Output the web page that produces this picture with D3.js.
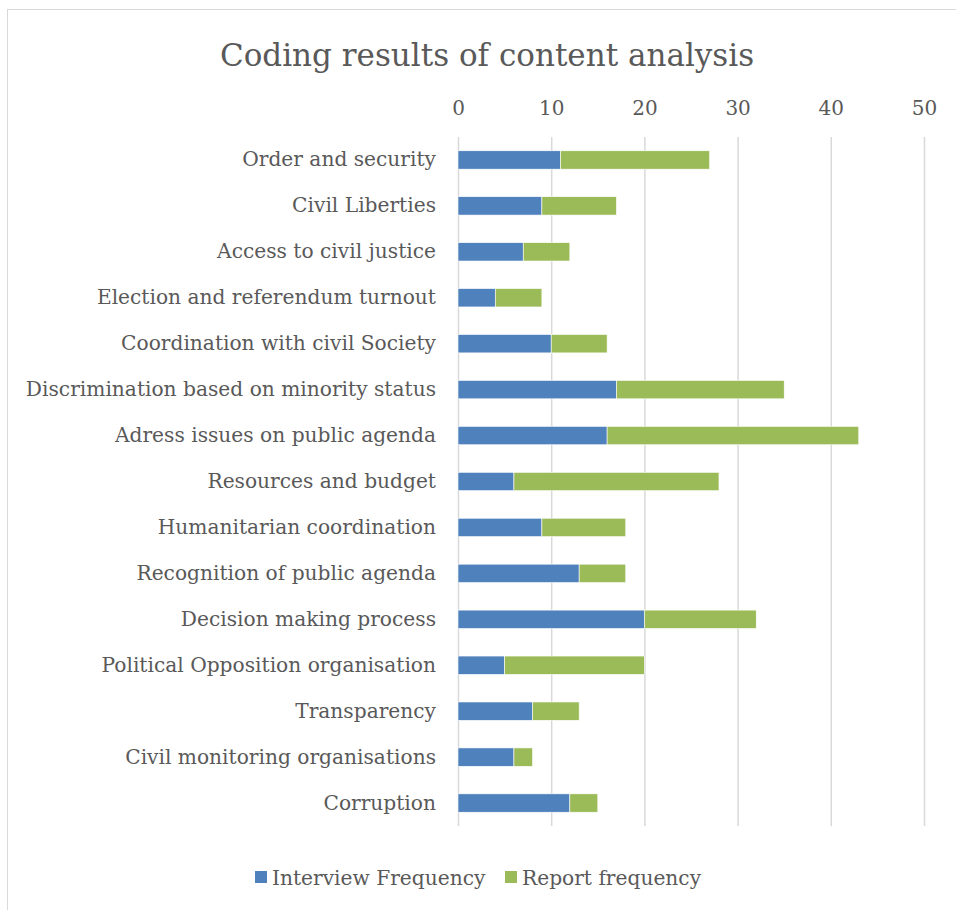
<html lang="en">
  <head>
    <meta charset="utf-8" />
    <title>Coding results of content analysis</title>
    <style>
     body {
       margin: 0;
       background: white;
       font-family: "DejaVu Serif", serif;
     }
    </style>
  </head>
  <body>
    <div id="chart"></div>

    <script src="https://d3js.org/d3.v7.min.js"></script>
    <script>

     var categories = [
       "Order and security",
       "Civil Liberties",
       "Access to civil justice",
       "Election and referendum turnout",
       "Coordination with civil Society",
       "Discrimination based on minority status",
       "Adress issues on public agenda",
       "Resources and budget",
       "Humanitarian coordination",
       "Recognition of public agenda",
       "Decision making process",
       "Political Opposition organisation",
       "Transparency",
       "Civil monitoring organisations",
       "Corruption"
     ];
     var interview = [11, 9, 7, 4, 10, 17, 16, 6, 9, 13, 20, 5, 8, 6, 12];
     var report    = [16, 8, 5, 5, 6, 18, 27, 22, 9, 5, 12, 15, 5, 2, 3];
     var seriesNames = ["Interview Frequency", "Report frequency"];
     var colors = ["#4F81BD", "#9BBB59"];
     var ticks = [0, 10, 20, 30, 40, 50];

     var width = 956, height = 910;
     var textColor = "#595959";

     var svg = d3.select("#chart")
                 .append("svg")
                 .attr("width", width)
                 .attr("height", height);

     // chart border
     svg.append("rect")
        .attr("x", 7.5)
        .attr("y", 9.5)
        .attr("width", width)
        .attr("height", height)
        .attr("fill", "white")
        .attr("stroke", "#D9D9D9");

     svg.append("text")
        .attr("x", 487)
        .attr("y", 66)
        .attr("text-anchor", "middle")
        .attr("fill", textColor)
        .attr("font-size", 31)
        .text("Coding results of content analysis");

     var x = d3.scaleLinear().domain([0, 50]).range([458, 924]);
     var y = d3.scaleBand().domain(categories).range([137, 826]).paddingInner(0.6).paddingOuter(0.3);

     // gridlines
     svg.append("g")
        .selectAll("line")
        .data(ticks)
        .join("line")
        .attr("x1", d => x(d) + 0.5)
        .attr("x2", d => x(d) + 0.5)
        .attr("y1", 137)
        .attr("y2", 826)
        .attr("stroke", "#D9D9D9")
        .attr("stroke-width", 1.5);

     // top axis labels
     var xAxis = svg.append("g")
        .attr("transform", "translate(0,115)")
        .call(d3.axisTop(x).tickValues(ticks).tickSize(0).tickPadding(0));
     xAxis.select(".domain").remove();
     xAxis.selectAll("text")
        .attr("fill", textColor)
        .attr("font-size", 20)
        .attr("font-family", "DejaVu Serif, serif");

     // category labels
     var yAxis = svg.append("g")
        .attr("transform", "translate(436,0)")
        .call(d3.axisLeft(y).tickSize(0).tickPadding(0));
     yAxis.select(".domain").remove();
     yAxis.selectAll("text")
        .attr("fill", textColor)
        .attr("font-size", 20.2)
        .attr("font-family", "DejaVu Serif, serif");

     // stacked bars
     var rows = categories.map((c, i) => ({cat: c, interview: interview[i], report: report[i]}));
     var stack = d3.stack().keys(["interview", "report"])(rows);

     svg.append("g")
        .selectAll("g")
        .data(stack)
        .join("g")
        .attr("fill", (d, i) => colors[i])
        .selectAll("rect")
        .data(d => d)
        .join("rect")
        .attr("x", d => x(d[0]))
        .attr("y", d => y(d.data.cat))
        .attr("width", d => x(d[1]) - x(d[0]))
        .attr("height", y.bandwidth())
        .attr("stroke", "white")
        .attr("stroke-width", 0.6);

     // legend
     var legend = svg.append("g");
     var legendX = [255, 505];
     seriesNames.forEach(function(name, i) {
       legend.append("rect")
          .attr("x", legendX[i])
          .attr("y", 871)
          .attr("width", 12)
          .attr("height", 12)
          .attr("fill", colors[i]);
       legend.append("text")
          .attr("x", legendX[i] + 17)
          .attr("y", 885)
          .attr("fill", textColor)
          .attr("font-size", 20.2)
          .text(name);
     });

    </script>
  </body>
</html>
